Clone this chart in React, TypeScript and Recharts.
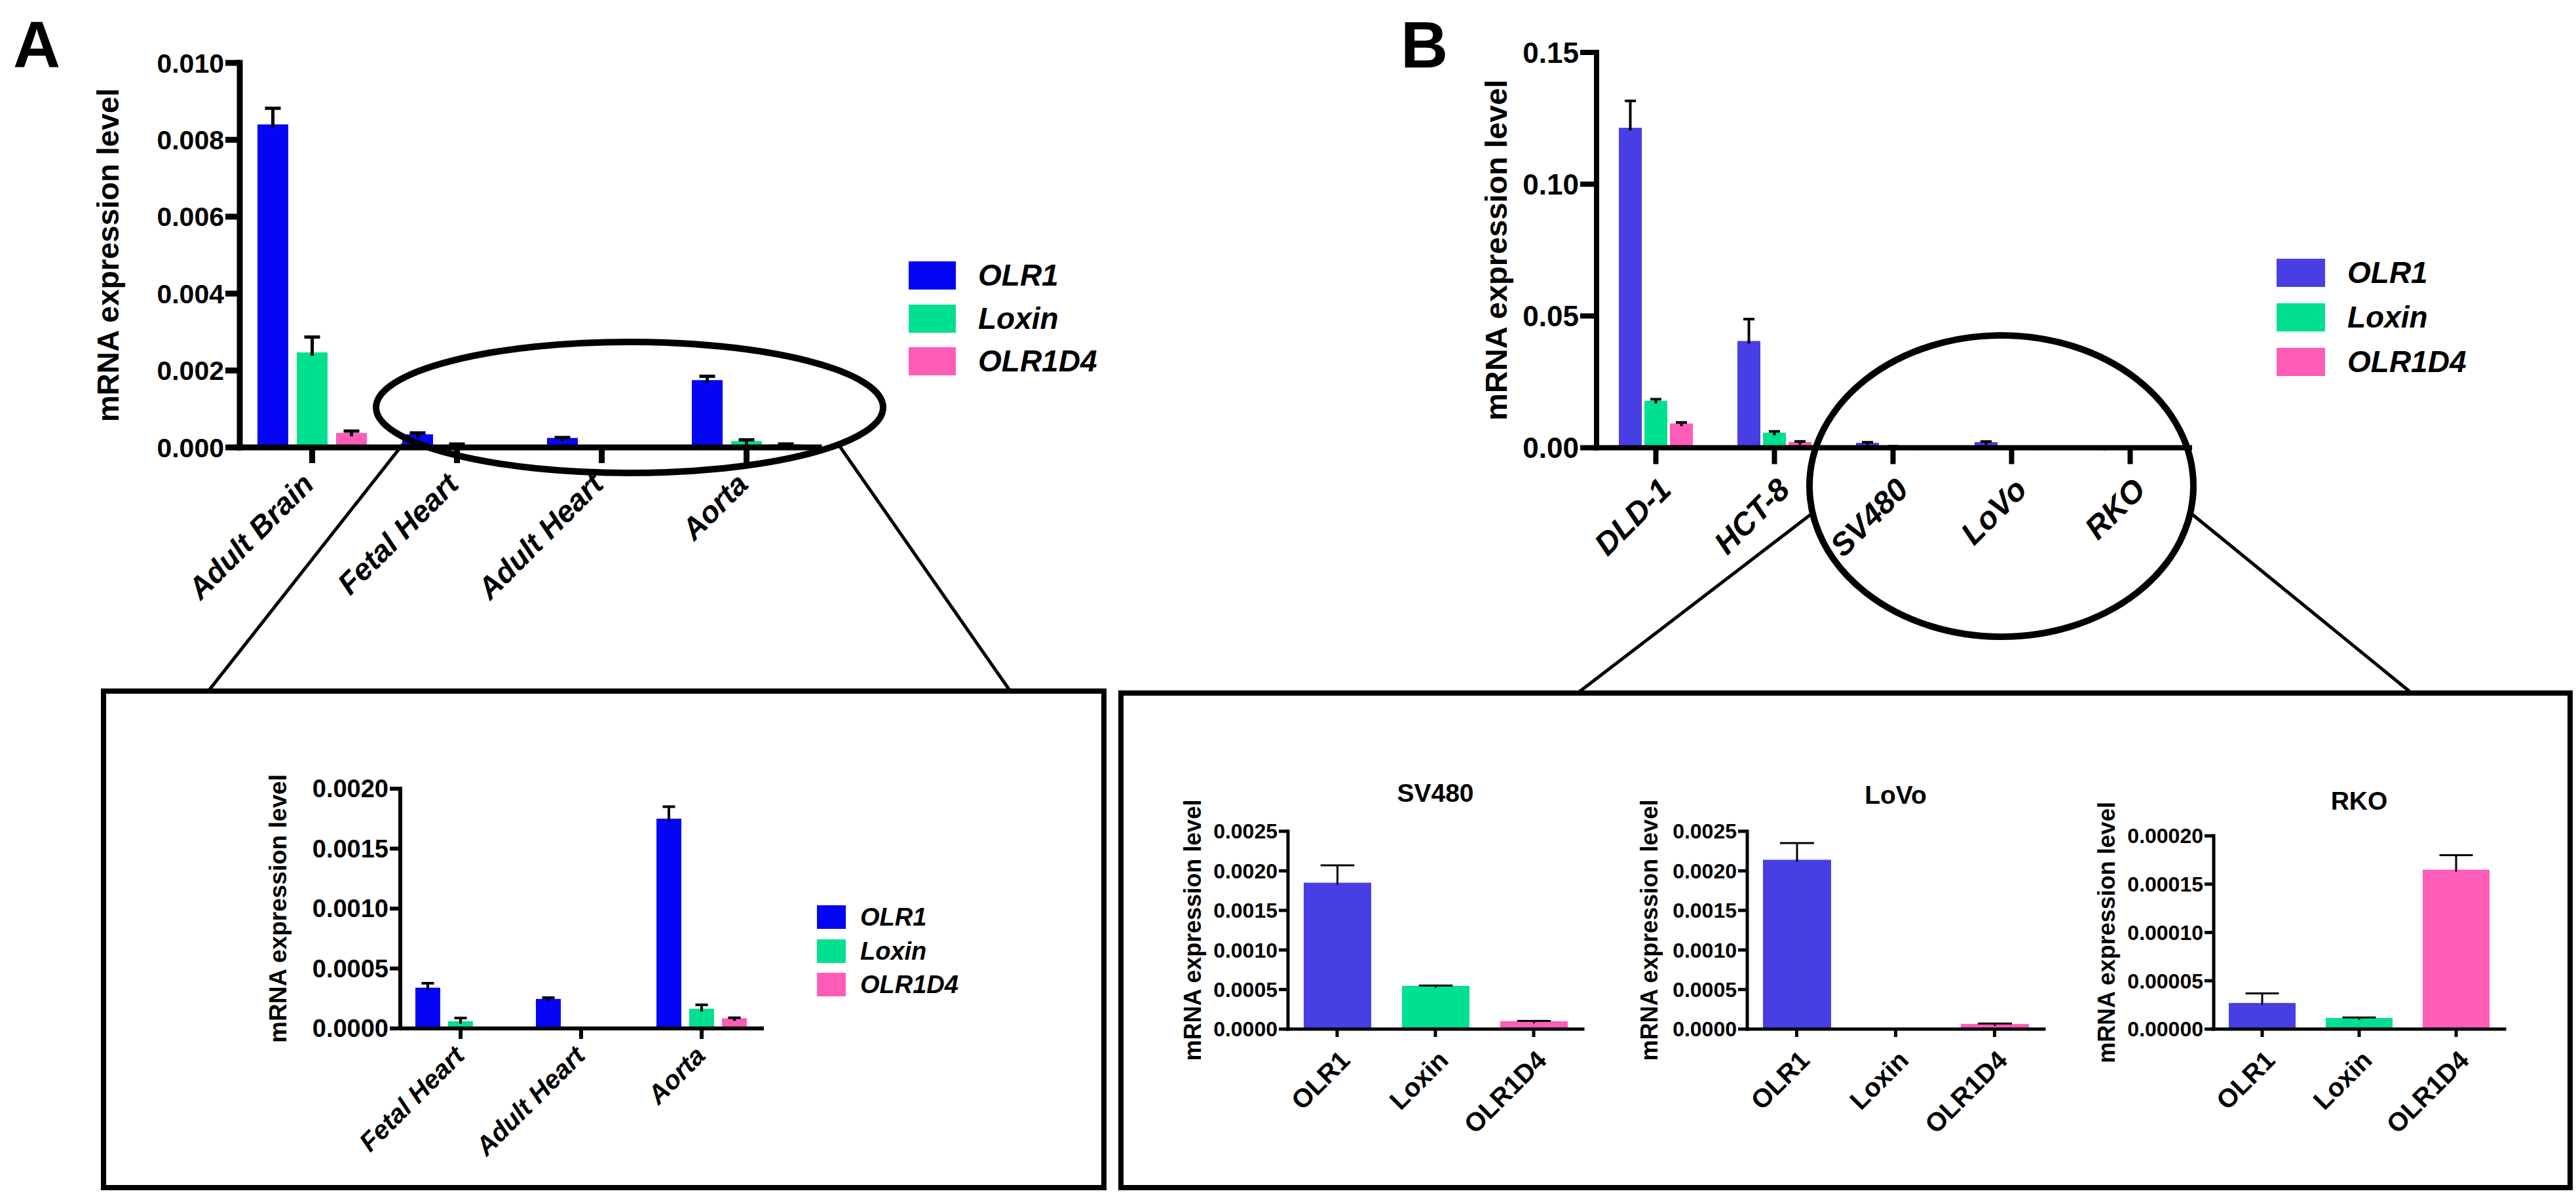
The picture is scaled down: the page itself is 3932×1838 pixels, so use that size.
import React from "react";
import { Bar, BarChart, Cell, Label, Legend, XAxis, YAxis } from "recharts";

// Two-panel figure: (A) tissues, (B) colorectal cell lines, each with zoomed insets.
// Page coordinates below.

const FONT = '"Liberation Sans", Arial, Helvetica, sans-serif';
const INK = "#000";

const BLUE_A = "#0505f5";
const BLUE_B = "#473fe3";
const GREEN = "#00e08e";
const PINK = "#ff5cb8";

const GENES = ["OLR1", "Loxin", "OLR1D4"];

// --- A: human tissues (mean, SD) ---
const TISSUES = ["Adult Brain", "Fetal Heart", "Adult Heart", "Aorta"];
const TISSUE_OLR1 = [0.0084, 0.00034, 0.000246, 0.00175];
const TISSUE_OLR1_SD = [0.00042, 0.000037, 0.000011, 0.0001];
const TISSUE_LOXIN = [0.00247, 0.00006, 0.000004, 0.000164];
const TISSUE_LOXIN_SD = [0.0004, 0.000027, 0, 0.000033];
const TISSUE_D4 = [0.000375, 0.000005, 0.000008, 0.000085];
const TISSUE_D4_SD = [0.00005, 0, 0, 0.000004];

// --- B: colorectal cell lines (mean, SD) ---
const CELL_LINES = ["DLD-1", "HCT-8", "SV480", "LoVo", "RKO"];
const CELL_OLR1 = [0.1214, 0.0405, 0.00185, 0.00214, 0.000027];
const CELL_OLR1_SD = [0.0102, 0.0083, 0.00022, 0.00021, 0.00001];
const CELL_LOXIN = [0.0178, 0.0057, 0.000546, 0.000004, 0.0000115];
const CELL_LOXIN_SD = [0.0006, 0.0005, 0.000005, 0, 0.0000005];
const CELL_D4 = [0.0092, 0.0022, 0.0001, 0.000065, 0.000165];
const CELL_D4_SD = [0.0004, 0.0002, 0.000004, 0.000005, 0.000015];

const TICKS_A = [0, 0.002, 0.004, 0.006, 0.008, 0.01];
const TICKS_A_INSET = [0, 0.0005, 0.001, 0.0015, 0.002];
const TICKS_B = [0, 0.05, 0.1, 0.15];
const TICKS_B_LINE = [0, 0.0005, 0.001, 0.0015, 0.002, 0.0025];
const TICKS_B_RKO = [0, 0.00005, 0.0001, 0.00015, 0.0002];

const tissueRows = TISSUES.map((name, i) => ({
  name,
  olr1: TISSUE_OLR1[i],
  olr1Sd: TISSUE_OLR1_SD[i],
  loxin: TISSUE_LOXIN[i],
  loxinSd: TISSUE_LOXIN_SD[i],
  d4: TISSUE_D4[i],
  d4Sd: TISSUE_D4_SD[i],
}));
const insetRows = tissueRows.slice(1);

const cellRows = CELL_LINES.map((name, i) => ({
  name,
  olr1: CELL_OLR1[i],
  olr1Sd: CELL_OLR1_SD[i],
  loxin: CELL_LOXIN[i],
  loxinSd: CELL_LOXIN_SD[i],
  d4: CELL_D4[i],
  d4Sd: CELL_D4_SD[i],
}));

function geneRows(line: number) {
  const vals = [CELL_OLR1, CELL_LOXIN, CELL_D4];
  const sds = [CELL_OLR1_SD, CELL_LOXIN_SD, CELL_D4_SD];
  return GENES.map((name, j) => ({ name, value: vals[j][line], sd: sds[j][line] }));
}

// Bar rectangle plus an upper-only SD whisker, scaled from the bar's own geometry.
function barWithSd(valueKey: string, sdKey: string, cap: number, sw: number) {
  return (p: any) => {
    const { x, y, width, height, fill, payload } = p;
    const v = payload[valueKey];
    const sd = payload[sdKey] ?? 0;
    const k = v > 0 ? height / v : 0;
    const top = y - sd * k;
    const cx = x + width / 2;
    return (
      <g>
        <rect x={x} y={y} width={width} height={Math.max(height, 0)} fill={fill} />
        {sd > 0 && k > 0 && (
          <g stroke={INK} strokeWidth={sw}>
            <line x1={cx} y1={y + sw} x2={cx} y2={top} />
            <line x1={cx - cap / 2} y1={top} x2={cx + cap / 2} y2={top} />
          </g>
        )}
      </g>
    );
  };
}

type Box = { l: number; t: number; r: number; b: number };
type Spec = {
  plot: Box;
  axisW: number;
  padTop: number;
  xAxisH: number;
  extraRight: number;
  ticks: number[];
  digits: number;
  tickFont: number;
  titleFont: number;
  titleGap: number;
  labelFont: number;
  italic: boolean;
  labelDx: number;
  labelDy: number;
  stroke: number;
  yTickLen: number;
  xTickLen: number;
};
type LegendSpec = { x: number; y: number; sw: number; sh: number; rowGap: number; textX: number; font: number; colors: string[] };

function SlantTick(props: any) {
  const { x, y, payload, font, italic, dx, dy } = props;
  const ax = x + dx;
  const ay = y + dy;
  return (
    <text
      x={ax}
      y={ay}
      dy="0.71em"
      transform={`rotate(-45 ${ax} ${ay})`}
      textAnchor="end"
      fontFamily={FONT}
      fontWeight="bold"
      fontStyle={italic ? "italic" : "normal"}
      fontSize={font}
      fill={INK}
    >
      {payload.value}
    </text>
  );
}

function LegendBody({ lg }: { lg: LegendSpec }) {
  return (
    <div style={{ position: "relative", width: 420, height: lg.rowGap * 3 }}>
      {GENES.map((g, i) => (
        <div key={g} style={{ position: "absolute", left: 0, top: i * lg.rowGap, height: lg.sh }}>
          <span style={{ display: "block", width: lg.sw, height: lg.sh, background: lg.colors[i] }} />
          <span
            style={{
              position: "absolute",
              left: lg.textX - lg.x,
              top: 0,
              lineHeight: `${lg.sh}px`,
              fontFamily: FONT,
              fontWeight: "bold",
              fontStyle: "italic",
              fontSize: lg.font,
              color: INK,
              whiteSpace: "nowrap",
            }}
          >
            {g}
          </span>
        </div>
      ))}
    </div>
  );
}

function Panel({ spec, data, barGap, legend, children }: { spec: Spec; data: any[]; barGap?: number; legend?: LegendSpec; children: React.ReactNode }) {
  const { plot } = spec;
  const left = plot.l - spec.axisW;
  const top = plot.t - spec.padTop;
  const width = spec.axisW + (plot.r - plot.l) + spec.extraRight;
  const height = spec.padTop + (plot.b - plot.t) + spec.xAxisH;
  const line = { stroke: INK, strokeWidth: spec.stroke, strokeLinecap: "square" as const };
  return (
    <div style={{ position: "absolute", left, top }}>
      <BarChart
        width={width}
        height={height}
        data={data}
        margin={{ top: spec.padTop, right: spec.extraRight, bottom: 0, left: 0 }}
        barGap={barGap ?? 0}
      >
        <XAxis
          dataKey="name"
          height={spec.xAxisH}
          interval={0}
          tickSize={spec.xTickLen}
          tickMargin={0}
          axisLine={line}
          tickLine={{ stroke: INK, strokeWidth: spec.stroke }}
          tick={(p: any) => <SlantTick {...p} font={spec.labelFont} italic={spec.italic} dx={spec.labelDx} dy={spec.labelDy} />}
        />
        <YAxis
          width={spec.axisW}
          domain={[0, spec.ticks[spec.ticks.length - 1]]}
          ticks={spec.ticks}
          interval={0}
          tickSize={spec.yTickLen}
          tickMargin={2}
          axisLine={line}
          tickLine={{ stroke: INK, strokeWidth: spec.stroke }}
          tickFormatter={(v: number) => v.toFixed(spec.digits)}
          tick={{ fill: INK, fontSize: spec.tickFont, fontWeight: "bold", fontFamily: FONT }}
          label={
            <Label
              content={(lp: any) => {
                const vb = lp.viewBox ?? { x: 0, y: 0, width: 0, height: 0 };
                const cx = vb.x + vb.width - spec.titleGap;
                const cy = vb.y + vb.height / 2;
                return (
                  <text
                    x={cx}
                    y={cy}
                    transform={`rotate(-90 ${cx} ${cy})`}
                    textAnchor="middle"
                    dominantBaseline="central"
                    fontFamily={FONT}
                    fontWeight="bold"
                    fontSize={spec.titleFont}
                    fill={INK}
                  >
                    mRNA expression level
                  </text>
                );
              }}
            />
          }
        />
        {children}
        {legend && (
          <Legend
            layout="vertical"
            align="center"
            verticalAlign="middle"
            wrapperStyle={{ left: legend.x - left, top: legend.y - top, width: 420 }}
            content={() => <LegendBody lg={legend} />}
          />
        )}
      </BarChart>
    </div>
  );
}

const SPEC_A: Spec = {
  plot: { l: 366, t: 96, r: 1250, b: 683 },
  axisW: 366, padTop: 90, xAxisH: 340, extraRight: 450,
  ticks: TICKS_A, digits: 3, tickFont: 41, titleFont: 46, titleGap: 201,
  labelFont: 46, italic: true, labelDx: -18, labelDy: 12,
  stroke: 9, yTickLen: 22, xTickLen: 24,
};
const SPEC_A_INSET: Spec = {
  plot: { l: 611, t: 1204, r: 1163, b: 1570 },
  axisW: 230, padTop: 90, xAxisH: 230, extraRight: 290,
  ticks: TICKS_A_INSET, digits: 4, tickFont: 38, titleFont: 37, titleGap: 187,
  labelFont: 40, italic: true, labelDx: -12, labelDy: 8,
  stroke: 6, yTickLen: 16, xTickLen: 16,
};
const SPEC_B: Spec = {
  plot: { l: 2437, t: 79.5, r: 3342, b: 683 },
  axisW: 200, padTop: 75, xAxisH: 300, extraRight: 400,
  ticks: TICKS_B, digits: 2, tickFont: 44, titleFont: 47, titleGap: 154,
  labelFont: 48, italic: true, labelDx: 2, labelDy: 18,
  stroke: 8, yTickLen: 25, xTickLen: 25,
};
const lineSpec = (plot: Box, ticks: number[], digits: number, titleGap: number): Spec => ({
  plot, axisW: 190, padTop: 100, xAxisH: 200, extraRight: 20,
  ticks, digits, tickFont: 32, titleFont: 36, titleGap,
  labelFont: 40, italic: false, labelDx: 2, labelDy: 18,
  stroke: 5, yTickLen: 14, xTickLen: 12,
});
const SPEC_SV480 = lineSpec({ l: 1966, t: 1269, r: 2416, b: 1571 }, TICKS_B_LINE, 4, 146);
const SPEC_LOVO = lineSpec({ l: 2667, t: 1269, r: 3120, b: 1571 }, TICKS_B_LINE, 4, 150);
const SPEC_RKO = lineSpec({ l: 3379, t: 1276, r: 3823, b: 1571 }, TICKS_B_RKO, 5, 164);

const LEGEND_A: LegendSpec = { x: 1387, y: 399, sw: 72, sh: 43, rowGap: 65.5, textX: 1493, font: 46, colors: [BLUE_A, GREEN, PINK] };
const LEGEND_A_INSET: LegendSpec = { x: 1247, y: 1382, sw: 44, sh: 36, rowGap: 51.5, textX: 1313, font: 38, colors: [BLUE_A, GREEN, PINK] };
const LEGEND_B: LegendSpec = { x: 3475, y: 395, sw: 74, sh: 43, rowGap: 68, textX: 3583, font: 46, colors: [BLUE_B, GREEN, PINK] };

function CellLineInset({ spec, line }: { spec: Spec; line: number }) {
  const colors = [BLUE_B, GREEN, PINK];
  const size = Math.round(((spec.plot.r - spec.plot.l) / 3) * 0.69);
  return (
    <Panel spec={spec} data={geneRows(line)}>
      <Bar dataKey="value" barSize={size} isAnimationActive={false} shape={barWithSd("value", "sd", size / 2, 3)}>
        {GENES.map((g, j) => (
          <Cell key={g} fill={colors[j]} />
        ))}
      </Bar>
    </Panel>
  );
}

export default function App() {
  const W = 3932;
  const H = 1838;
  const insetTitles = [
    { spec: SPEC_SV480, text: "SV480", y: 1224 },
    { spec: SPEC_LOVO, text: "LoVo", y: 1227 },
    { spec: SPEC_RKO, text: "RKO", y: 1236 },
  ];
  return (
    <div style={{ position: "absolute", left: 0, top: 0, width: W, height: H, background: "#fff", overflow: "hidden" }}>
      <Panel spec={SPEC_A} data={tissueRows} barGap={13} legend={LEGEND_A}>
        <Bar name="OLR1" dataKey="olr1" fill={BLUE_A} barSize={47} isAnimationActive={false} shape={barWithSd("olr1", "olr1Sd", 24, 5)} />
        <Bar name="Loxin" dataKey="loxin" fill={GREEN} barSize={47} isAnimationActive={false} shape={barWithSd("loxin", "loxinSd", 24, 5)} />
        <Bar name="OLR1D4" dataKey="d4" fill={PINK} barSize={47} isAnimationActive={false} shape={barWithSd("d4", "d4Sd", 24, 5)} />
      </Panel>

      <Panel spec={SPEC_A_INSET} data={insetRows} barGap={12} legend={LEGEND_A_INSET}>
        <Bar name="OLR1" dataKey="olr1" fill={BLUE_A} barSize={38} isAnimationActive={false} shape={barWithSd("olr1", "olr1Sd", 19, 4)} />
        <Bar name="Loxin" dataKey="loxin" fill={GREEN} barSize={38} isAnimationActive={false} shape={barWithSd("loxin", "loxinSd", 19, 4)} />
        <Bar name="OLR1D4" dataKey="d4" fill={PINK} barSize={38} isAnimationActive={false} shape={barWithSd("d4", "d4Sd", 19, 4)} />
      </Panel>

      <Panel spec={SPEC_B} data={cellRows} barGap={4} legend={LEGEND_B}>
        <Bar name="OLR1" dataKey="olr1" fill={BLUE_B} barSize={35} isAnimationActive={false} shape={barWithSd("olr1", "olr1Sd", 17, 4)} />
        <Bar name="Loxin" dataKey="loxin" fill={GREEN} barSize={35} isAnimationActive={false} shape={barWithSd("loxin", "loxinSd", 17, 4)} />
        <Bar name="OLR1D4" dataKey="d4" fill={PINK} barSize={35} isAnimationActive={false} shape={barWithSd("d4", "d4Sd", 17, 4)} />
      </Panel>

      <CellLineInset spec={SPEC_SV480} line={2} />
      <CellLineInset spec={SPEC_LOVO} line={3} />
      <CellLineInset spec={SPEC_RKO} line={4} />

      {/* annotation layer: panel letters, zoom ellipses, connector lines, inset frames */}
      <svg width={W} height={H} style={{ position: "absolute", left: 0, top: 0, pointerEvents: "none" }}>
        <g fontFamily={FONT} fontWeight="bold" fill={INK}>
          <text x={20} y={103} fontSize={100}>A</text>
          <text x={2138} y={103} fontSize={100}>B</text>
          {insetTitles.map((t) => (
            <text key={t.text} x={(t.spec.plot.l + t.spec.plot.r) / 2} y={t.y} fontSize={39} textAnchor="middle">
              {t.text}
            </text>
          ))}
        </g>
        <g fill="none" stroke={INK}>
          <ellipse cx={961} cy={622} rx={387} ry={100} strokeWidth={10} />
          <ellipse cx={3055} cy={742} rx={293} ry={230} strokeWidth={10} />
          <line x1={615} y1={678} x2={318} y2={1055} strokeWidth={5} />
          <line x1={1278} y1={676} x2={1542} y2={1055} strokeWidth={5} />
          <line x1={2767} y1={783} x2={2408} y2={1058} strokeWidth={5} />
          <line x1={3346} y1={785} x2={3681} y2={1058} strokeWidth={5} />
          <rect x={158} y={1055} width={1527} height={758} strokeWidth={8} />
          <rect x={1711} y={1058} width={2212} height={755} strokeWidth={8} />
        </g>
      </svg>
    </div>
  );
}
